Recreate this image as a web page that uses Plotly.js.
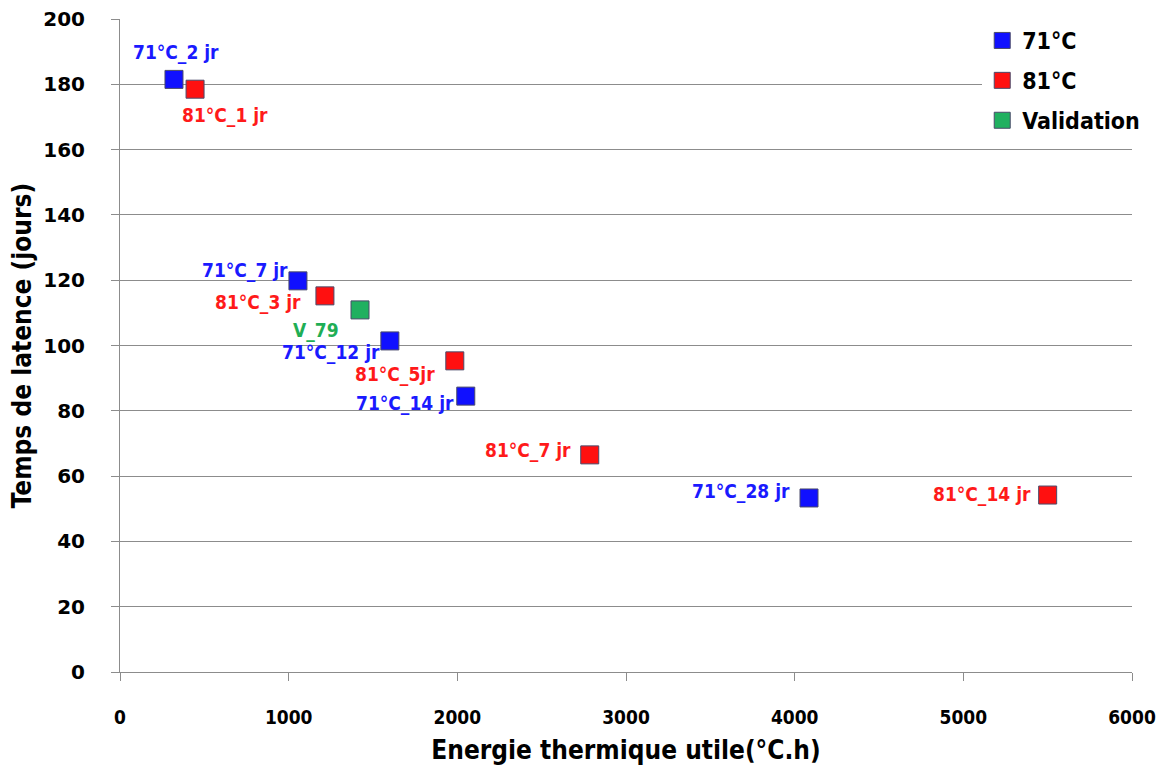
<!DOCTYPE html>
<html>
<head>
<meta charset="utf-8">
<script src="https://cdn.plot.ly/plotly-3.0.1.min.js"></script>
<style>html,body{margin:0;padding:0;background:#fff;}#chart{width:1164px;height:769px;}</style>
</head>
<body>
<div id="chart"></div>
<script>
// Data
const seriesNames = ["71°C", "81°C", "Validation"];
const energy71 = [320, 1055, 1600, 2050, 4085];
const latency71 = [181.5, 119.8, 101.4, 84.5, 53.3];
const labels71 = ["71°C_2 jr", "71°C_7 jr", "71°C_12 jr", "71°C_14 jr", "71°C_28 jr"];
const energy81 = [445, 1215, 1985, 2785, 5500];
const latency81 = [178.5, 115.2, 95.3, 66.5, 54.2];
const labels81 = ["81°C_1 jr", "81°C_3 jr", "81°C_5jr", "81°C_7 jr", "81°C_14 jr"];
const energyVal = [1423];
const latencyVal = [110.9];
const labelsVal = ["V_79"];

// Styles
const colors = ["#1010ff", "#ff1010", "#20b060"];
const labelColors = ["#1a1aff", "#ff1a1a", "#1fae55"];
const off71 = [[2, -27], [-53, -10], [-59, 12], [-61, 7], [-68, -6]];
const off81 = [[30, 26], [-67, 7], [-60, 14], [-62, -4], [-66, -1]];
const offVal = [[-44, 21]];

const narrow = "Liberation Sans Narrow, DejaVu Sans Condensed, Arial Narrow, sans-serif";

function trace(x, y, name, color, grp) {
  return {
    x: x, y: y, name: name, type: "scatter", mode: "markers", legendgroup: grp,
    marker: {symbol: "square", size: 18, color: color, line: {color: "#4a4a6a", width: 1}},
    hoverinfo: "x+y"
  };
}

const data = [
  trace(energy71, latency71, seriesNames[0], colors[0], "a"),
  trace(energy81, latency81, seriesNames[1], colors[1], "b"),
  trace(energyVal, latencyVal, seriesNames[2], colors[2], "c")
];

const annotations = [];
function addLabels(xs, ys, labels, offs, color) {
  for (let i = 0; i < xs.length; i++) {
    annotations.push({
      x: xs[i], y: ys[i], xref: "x", yref: "y", text: "<b>" + labels[i] + "</b>",
      showarrow: false, xshift: offs[i][0], yshift: -offs[i][1],
      font: {family: narrow, size: 19, color: color}
    });
  }
}
addLabels(energy71, latency71, labels71, off71, labelColors[0]);
addLabels(energy81, latency81, labels81, off81, labelColors[1]);
addLabels(energyVal, latencyVal, labelsVal, offVal, labelColors[2]);

const layout = {
  width: 1164, height: 769,
  margin: {l: 120, r: 32, t: 19, b: 97},
  paper_bgcolor: "#fff", plot_bgcolor: "#fff",
  showlegend: true,
  legend: {
    x: 0.852, xanchor: "left", y: 1.0, yanchor: "top",
    bgcolor: "#fff", borderwidth: 0,
    font: {family: "DejaVu Sans Condensed, DejaVu Sans, sans-serif", size: 23, color: "#000", weight: "bold"},
    tracegroupgap: 7, itemwidth: 30
  },
  xaxis: {
    range: [0, 6000], dtick: 1000, showgrid: false, zeroline: false,
    showline: true, linecolor: "#8c8c8c", linewidth: 1,
    ticks: "outside", ticklen: 8, tickcolor: "#8c8c8c",
    ticklabelstandoff: 20,
    tickfont: {family: narrow, size: 19, color: "#000", weight: "bold"},
    title: {text: "<b>Energie thermique utile(°C.h)</b>", font: {family: narrow, size: 26, color: "#000"}, standoff: 14}
  },
  yaxis: {
    range: [0, 200], dtick: 20, showgrid: true, gridcolor: "#8c8c8c", gridwidth: 1, zeroline: false,
    showline: true, linecolor: "#8c8c8c", linewidth: 1,
    ticks: "outside", ticklen: 8, tickcolor: "#8c8c8c",
    ticklabelstandoff: 22,
    tickfont: {family: "DejaVu Sans, sans-serif", size: 20, color: "#000", weight: "bold"},
    title: {text: "<b>Temps de latence (jours)</b>", font: {family: narrow, size: 26, color: "#000"}, standoff: 4}
  },
  annotations: annotations
};

Plotly.newPlot("chart", data, layout, {displayModeBar: false, staticPlot: true});
</script>
</body>
</html>
